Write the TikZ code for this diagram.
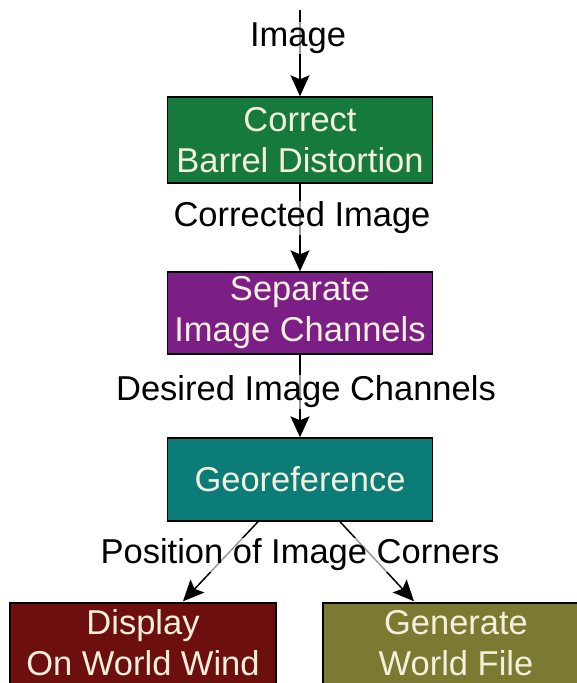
\documentclass[tikz,border=0pt]{standalone}
\usepackage{fontspec}
\setmainfont{Liberation Sans}
\usetikzlibrary{arrows.meta,calc}
\definecolor{cgreen}{HTML}{167A3C}
\definecolor{cpurple}{HTML}{7B1F86}
\definecolor{cteal}{HTML}{0B7C78}
\definecolor{cred}{HTML}{6E0F0F}
\definecolor{colive}{HTML}{7A7A32}
\definecolor{ctext}{HTML}{F4F0DC}
\tikzset{
  procbox/.style={draw=black, line width=1.4pt, minimum width=265pt, align=center,
    text=ctext, inner sep=0pt, font=\fontsize{34.5}{41}\selectfont},
  boxtext/.style={align=center, text=ctext, inner sep=0pt, font=\fontsize{34.5}{41}\selectfont},
  lbl/.style={fill=white, fill opacity=0.6, text opacity=1, inner sep=1pt,
    font=\fontsize{34.5}{42}\selectfont, text=black},
  arr/.style={draw=black, line width=1.5pt, -{Stealth[length=21pt,width=19pt,inset=4pt]}}
}
\begin{document}
\begin{tikzpicture}[x=1pt,y=-1pt]
\useasboundingbox (0,0) rectangle (577,683);
\clip (0,0) rectangle (577,683);
% boxes
\node[procbox, fill=cgreen, minimum height=86pt] (b1) at (300,140) {Correct\\Barrel Distortion};
\node[procbox, fill=cpurple, minimum height=82pt] (b2) at (300,313) {Separate\\Image Channels};
\node[procbox, fill=cteal, minimum height=83pt] (b3) at (300,479.5) {Georeference};
\node[procbox, fill=cred, minimum width=266pt, minimum height=100pt] (b4) at (143,653) {};
\node[procbox, fill=colive, minimum width=266pt, minimum height=100pt] (b5) at (456,653) {};
\node[boxtext] (t4) at (143,643) {Display\\On World Wind};
\node[boxtext] (t5) at (456,643) {Generate\\World File};
% connectors
\coordinate (src) at (300,10);
\draw[arr] (src) -- (b1.north);
\draw[arr] (b1.south) -- (b2.north);
\draw[arr] (b2.south) -- (b3.north);
\draw[arr] ($(b3.south)+(-42,0)$) -- ($(b4.north)+(40,-1)$);
\draw[arr] ($(b3.south)+(40,0)$) -- ($(b5.north)+(-42,-1)$);
% labels
\node[lbl] (l1) at (298,38) {Image};
\node[lbl] (l2) at (302,218) {Corrected Image};
\node[lbl] (l3) at (306,392) {Desired Image Channels};
\node[lbl] (l4) at (300,555) {Position of Image Corners};
\end{tikzpicture}
\end{document}
